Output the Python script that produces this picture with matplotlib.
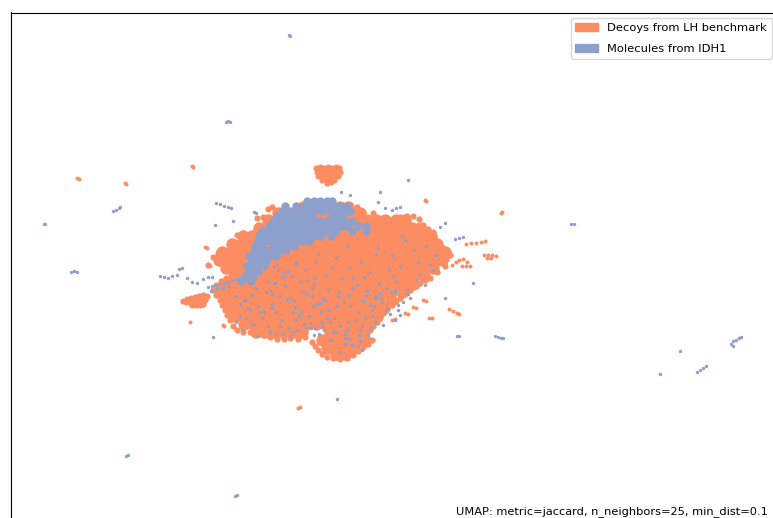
import matplotlib
matplotlib.use("Agg")
import matplotlib.pyplot as plt
from matplotlib.patches import Patch

W, H = 773, 518
ORANGE, BLUE = "#fc8d62", "#8da0cb"
legend_labels = ["Decoys from LH benchmark", "Molecules from IDH1"]
note = "UMAP: metric=jaccard, n_neighbors=25, min_dist=0.1"

# Core of the decoy cloud (y, x values)
decoy_core = [
    (207, [303, 312, 321, 330, 340, 348]),
    (213, [278, 288, 297, 306, 315, 324, 333, 342, 351, 360]),
    (220, [268, 277, 286, 295, 304, 313, 322, 331, 340, 349, 358, 367, 376, 385, 396, 405]),
    (228, [259, 268, 277, 286, 295, 304, 313, 322, 331, 340, 349, 358, 367, 376, 385, 394, 403, 412, 420]),
    (236, [243, 252, 262, 271, 280, 289, 298, 307, 316, 325, 334, 343, 352, 361, 370, 379, 388, 397, 406, 415, 424, 431]),
    (244, [232, 241, 250, 259, 268, 277, 286, 295, 304, 313, 322, 331, 340, 349, 358, 367, 376, 385, 394, 403, 412, 421, 430, 437]),
    (252, [222, 231, 240, 249, 258, 267, 276, 285, 294, 303, 312, 321, 330, 339, 348, 357, 366, 375, 384, 393, 402, 411, 420, 429, 438, 445]),
    (260, [219, 228, 237, 246, 255, 264, 273, 282, 291, 300, 309, 318, 327, 336, 345, 354, 363, 372, 381, 390, 399, 408, 417, 426, 435, 442]),
    (268, [226, 235, 244, 253, 262, 271, 280, 289, 298, 307, 316, 325, 334, 343, 352, 361, 370, 379, 388, 397, 406, 415, 424, 433]),
    (276, [234, 243, 252, 261, 270, 279, 288, 297, 306, 315, 324, 333, 342, 351, 360, 369, 378, 387, 396, 405, 414, 424]),
    (284, [224, 233, 242, 251, 260, 269, 278, 287, 296, 305, 314, 323, 332, 341, 350, 359, 368, 377, 386, 395, 404, 413]),
    (292, [220, 229, 238, 247, 256, 265, 274, 283, 292, 301, 310, 319, 328, 337, 346, 355, 364, 373, 382, 391, 402]),
    (300, [226, 235, 244, 253, 262, 271, 280, 289, 298, 307, 316, 325, 334, 343, 352, 361, 370, 379, 391]),
    (308, [229, 238, 247, 256, 265, 274, 283, 292, 301, 310, 319, 328, 337, 346, 355, 364, 373, 384]),
    (316, [235, 244, 253, 262, 271, 280, 289, 298, 307, 316, 325, 334, 343, 352, 361, 370, 377]),
    (324, [244, 253, 262, 271, 280, 289, 298, 307, 316, 325, 334, 343, 352, 361, 369]),
    (332, [256, 265, 274, 283, 293, 302, 330, 339, 348, 357, 364]),
    (340, [322, 331, 340, 349, 358, 365]),
    (348, [327, 336, 345, 354]),
    (354, [336, 345]),
]

# Ragged border of the decoy cloud
border_x = [268, 272, 277, 257, 263, 237, 243, 218, 213, 222, 208, 227, 350, 357, 363, 373, 383, 392, 400, 407,
            413, 419, 423, 428, 433, 428, 437, 443, 447, 450, 446, 442, 445, 437, 430, 425, 420, 416, 410,
            405, 400, 396, 392, 387, 383, 380, 377, 373, 370, 372, 368, 363, 358, 353, 347, 340, 333, 327,
            322, 318, 315, 312, 305, 298, 290, 284, 277, 270, 263, 256, 250, 243, 237, 233, 230, 227, 225,
            222, 220, 216, 213, 216, 221, 226, 229, 233, 236, 241, 246]
border_y = [209, 207, 212, 218, 217, 235, 233, 253, 257, 250, 265, 267, 205, 207, 212, 213, 218, 220, 217, 216,
            216, 219, 225, 229, 232, 238, 243, 248, 251, 255, 259, 262, 266, 272, 278, 280, 283, 286, 290,
            294, 298, 301, 305, 308, 313, 318, 322, 326, 330, 340, 344, 347, 351, 355, 358, 359, 358, 357,
            354, 350, 346, 342, 337, 339, 338, 339, 339, 337, 335, 333, 332, 332, 330, 326, 320, 315, 310,
            305, 300, 295, 290, 285, 281, 278, 270, 262, 248, 241, 236]

# Compact decoy satellites: block above the cloud and block on its left
blob_x = [316, 320, 324, 328, 332, 336, 339, 317, 321, 325, 329, 333, 337, 340,
          318, 322, 326, 330, 334, 338, 322, 326, 330, 334, 327, 331,
          183, 187, 191, 195, 199, 203, 207, 186, 190, 194, 198, 202, 205, 192, 196, 200, 203]
blob_y = [168, 167, 168, 167, 168, 167, 168, 172, 172, 172, 172, 172, 172, 172,
          176, 176, 176, 176, 176, 176, 180, 180, 180, 180, 183, 182,
          301, 299, 298, 297, 296, 295, 296, 302, 302, 302, 301, 301, 300, 305, 305, 305, 304]

# Small decoy points
decoy_x = [77, 79, 125, 126, 192, 193, 298, 300, 502, 501, 425, 426,
           190, 205, 207, 208, 210, 213, 223, 224,
           466, 471, 476, 481, 485, 484, 488, 492, 496, 487, 491,
           452, 456, 459, 463, 467, 470, 462, 466,
           449, 453, 457, 459, 429, 432, 413, 416, 405, 408, 423, 426, 392, 395]
decoy_y = [178, 179, 183, 184, 166, 167, 408, 407, 212, 213, 200, 201,
           322, 247, 248, 265, 266, 257, 325, 326,
           244, 243, 243, 242, 241, 255, 255, 255, 256, 258, 258,
           265, 262, 260, 259, 262, 266, 266, 266,
           309, 311, 313, 314, 318, 318, 307, 308, 313, 314, 300, 301, 320, 319]

# Dense IDH1 region, upper left of the cloud
idh1_core = [
    (201, [307, 314, 320, 327, 332]),
    (206, [285, 296, 304, 310, 316, 322, 328, 335, 340, 347]),
    (211, [282, 291, 297, 303, 308, 314, 321, 326, 333, 338, 345, 350]),
    (216, [277, 283, 288, 295, 300, 307, 312, 331, 336, 343]),
    (221, [273, 279, 284, 291, 296, 303, 308, 315, 320, 327, 332, 339, 344, 352]),
    (226, [269, 274, 281, 286, 293, 298, 305, 310, 317, 322, 329, 334, 342, 347, 358, 366]),
    (231, [262, 269, 275, 280, 287, 292, 299, 304, 311, 316, 323, 330, 336, 352, 366]),
    (236, [259, 265, 270, 277, 282, 289, 294, 301, 306, 313, 320, 331]),
    (241, [258, 264, 271, 276, 283, 288, 295, 302, 309]),
    (246, [255, 262, 268, 275, 280, 287, 294]),
    (251, [254, 261, 266, 273, 279, 285]),
    (256, [249, 257, 263, 270, 276]),
    (261, [252, 259, 266]),
    (266, [247, 256, 264]),
    (271, [250, 258]),
    (276, [245, 254]),
    (281, [241, 251]),
]

# Small IDH1 points: satellites, tail and speckle inside the cloud
idh1_x = [289, 290, 226, 228, 230, 44, 45, 71, 74, 77, 113, 116, 119, 120,
          571, 574, 126, 128, 235, 237, 337, 457, 459, 495, 498, 501, 503,
          660, 680, 697, 700, 703, 706, 731, 733, 736, 739, 741, 733,
          213, 408, 341, 350, 380, 378, 385, 392, 396, 400, 216, 220, 224, 228, 231, 215, 233, 254, 256,
          445, 440, 455, 459, 463, 473, 445, 398,
          160, 164, 168, 172, 177, 179, 182, 187, 192, 197, 203, 208, 212,
          208, 212, 216, 220, 224, 228, 232, 236, 240, 211, 217, 223, 229,
          270, 275, 283, 288, 296, 252, 246, 240, 236,
          262, 278, 292, 305, 318, 332, 347, 361, 376, 389, 405, 418,
          268, 285, 300, 315, 328, 342, 357, 370, 386, 400, 416, 430,
          272, 290, 307, 320, 338, 350, 366, 382, 395, 410, 425,
          258, 276, 295, 312, 329, 344, 358, 374, 390, 408,
          240, 262, 282, 299, 317, 334, 352, 365, 381, 396,
          244, 268, 288, 304, 322, 340, 356, 372, 388,
          250, 272, 293, 311, 327, 345, 362, 375,
          252, 270, 290, 312, 324, 331, 345, 358, 340, 362,
          310, 316, 322, 330, 345, 352, 360, 395, 400, 370, 375, 380,
          264, 274, 284, 296, 306, 316, 326, 336, 350, 364, 378, 392, 402, 414, 426, 436,
          256, 266, 280, 294, 303, 314, 323, 339, 353, 367, 379, 393, 407, 420, 433,
          248, 260, 272, 287, 301, 313, 325, 337, 349, 363, 377, 391, 403,
          236, 254, 270, 283, 297, 309, 321, 336, 348, 360, 372, 386, 398,
          242, 258, 276, 293, 306, 319, 333, 347, 359, 371, 383,
          246, 264, 280, 296, 314, 330, 349, 368]
idh1_y = [35, 36, 122, 121, 122, 224, 224, 272, 271, 272, 211, 210, 208, 207,
          224, 224, 456, 455, 496, 495, 399, 336, 336, 336, 337, 338, 338,
          374, 351, 372, 370, 368, 366, 344, 341, 340, 338, 337, 346,
          337, 180, 192, 195, 192, 202, 208, 210, 208, 207, 203, 204, 206, 207, 208, 225, 221, 212, 213,
          223, 227, 239, 238, 237, 283, 298, 310,
          276, 277, 278, 276, 275, 269, 268, 278, 282, 283, 279, 277, 277,
          287, 286, 285, 284, 283, 282, 280, 279, 278, 291, 289, 288, 286,
          290, 283, 277, 271, 262, 295, 300, 304, 296,
          262, 270, 276, 270, 254, 268, 246, 262, 254, 270, 240, 262,
          282, 286, 282, 278, 290, 278, 285, 272, 288, 266, 280, 265,
          294, 298, 294, 303, 296, 306, 296, 302, 291, 298, 285,
          306, 312, 307, 296, 310, 302, 312, 306, 314, 294,
          316, 318, 320, 316, 304, 318, 288, 318, 298, 282,
          300, 326, 328, 324, 322, 326, 320, 310, 308,
          310, 308, 312, 328, 318, 334, 326, 322,
          324, 332, 336, 288, 330, 340, 344, 346, 352, 350,
          323, 328, 326, 322, 338, 345, 341, 320, 315, 305, 298, 293,
          258, 266, 272, 264, 280, 262, 275, 258, 268, 277, 248, 255, 236, 250, 246, 255,
          288, 292, 296, 300, 292, 284, 298, 292, 278, 291, 284, 276, 290, 274, 270,
          308, 312, 304, 300, 312, 306, 300, 306, 296, 301, 296, 292, 302,
          322, 324, 332, 334, 330, 316, 312, 332, 322, 330, 316, 310, 305,
          330, 336, 334, 332, 328, 334, 332, 330, 335, 328, 325,
          318, 312, 326, 320, 335, 340, 339, 335]

# Decoy specks that lie over the IDH1 region
decoy_over_x = [318, 322, 327, 268, 262, 258, 285, 300, 340, 346]
decoy_over_y = [215, 216, 214, 245, 268, 276, 254, 250, 232, 236]

fig = plt.figure(figsize=(W / 100, H / 100), dpi=100)
# The axes run past the right and bottom edges of the canvas, as in the reference
left, top, right, bottom = 10.5, 12.5, 800, 540
ax = fig.add_axes([left / W, 1 - bottom / H, (right - left) / W, (bottom - top) / H])
ax.set_xlim(left, right)
ax.set_ylim(bottom, top)
ax.set_xticks([])
ax.set_yticks([])

for y, xs in decoy_core:
    ax.scatter(xs, [y] * len(xs), s=80, color=ORANGE, linewidths=0, zorder=2)
ax.scatter(border_x, border_y, s=20, color=ORANGE, linewidths=0, zorder=2)
ax.scatter(blob_x, blob_y, s=20, color=ORANGE, linewidths=0, zorder=2)
ax.scatter(decoy_x, decoy_y, s=8, color=ORANGE, linewidths=0, zorder=2)
for y, xs in idh1_core:
    ax.scatter(xs, [y] * len(xs), s=36, color=BLUE, linewidths=0, zorder=3)
ax.scatter(idh1_x, idh1_y, s=6, color=BLUE, linewidths=0, zorder=3)
ax.scatter(decoy_over_x, decoy_over_y, s=4, color=ORANGE, linewidths=0, zorder=4)

handles = [Patch(color=ORANGE), Patch(color=BLUE)]
ax.legend(handles, legend_labels, loc="upper right", fontsize=8.25, borderaxespad=0,
          labelspacing=1.0, borderpad=0.4, bbox_to_anchor=(771.5, 18), bbox_transform=ax.transData)
ax.text(768, 517, note, ha="right", va="bottom", fontsize=8.2, color="black")
fig.savefig("out.png", dpi=100)
